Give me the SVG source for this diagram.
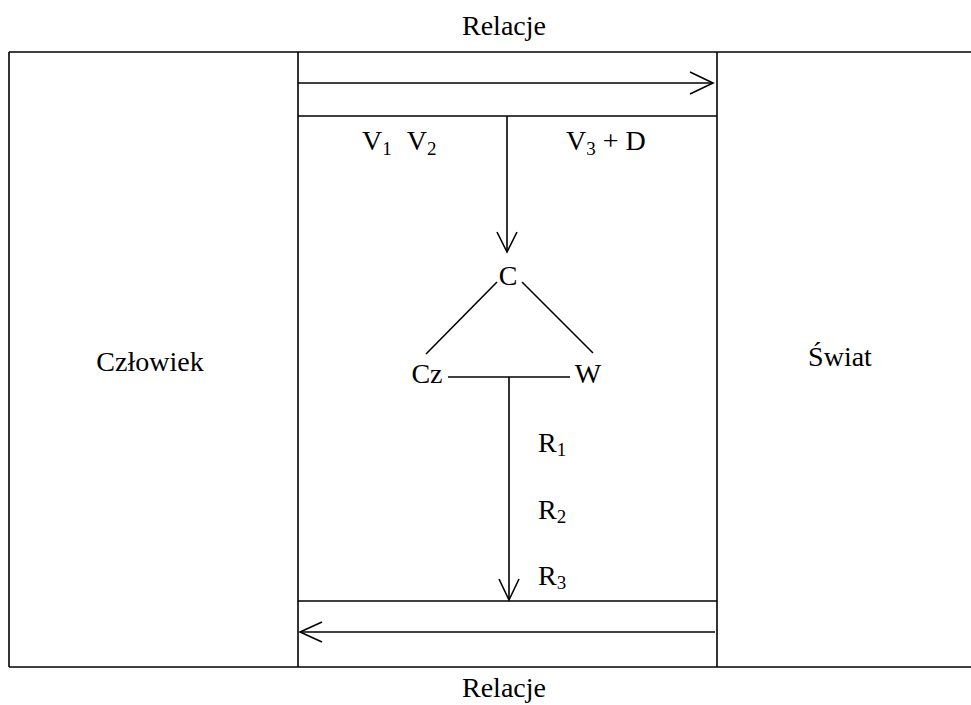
<svg xmlns="http://www.w3.org/2000/svg" width="971" height="705" viewBox="0 0 971 705">
<style>
  .ln { stroke: #000; stroke-width: 1.6; fill: none; }
  text { font-family: 'Liberation Serif', 'DejaVu Serif', serif; font-size: 28px; fill: #000; }
  .s { font-size: 19px; }
</style>
<rect width="971" height="705" fill="#fff"/>
<g id="frame">
  <line class="ln" x1="9" y1="52" x2="971" y2="52"/>
  <line class="ln" x1="9" y1="52" x2="9" y2="667"/>
  <line class="ln" x1="9" y1="667" x2="971" y2="667"/>
  <line class="ln" x1="298" y1="52" x2="298" y2="667"/>
  <line class="ln" x1="717" y1="52" x2="717" y2="667"/>
  <line class="ln" x1="298" y1="116" x2="717" y2="116"/>
  <line class="ln" x1="298" y1="601" x2="717" y2="601"/>
</g>
<g id="czlowiek"><text x="150" y="371" text-anchor="middle">Człowiek</text></g>
<g id="swiat"><text x="840" y="366" text-anchor="middle">Świat</text></g>
<g id="relacje-top"><text x="504" y="35" text-anchor="middle">Relacje</text></g>
<g id="relacje-bottom"><text x="504" y="697" text-anchor="middle">Relacje</text></g>
<g id="v12"><text x="362" y="150">V<tspan class="s" dy="5">1</tspan><tspan dy="-5" dx="15">V</tspan><tspan class="s" dy="5">2</tspan></text></g>
<g id="v3d"><text x="566" y="150">V<tspan class="s" dy="5">3</tspan><tspan dy="-5"> + D</tspan></text></g>
<g id="c"><text x="508" y="285" text-anchor="middle">C</text></g>
<g id="cz"><text x="427" y="383" text-anchor="middle">Cz</text></g>
<g id="w"><text x="588" y="383" text-anchor="middle">W</text></g>
<g id="r1"><text x="538" y="452">R<tspan class="s" dy="4">1</tspan></text></g>
<g id="r2"><text x="538" y="519">R<tspan class="s" dy="4">2</tspan></text></g>
<g id="r3"><text x="538" y="585">R<tspan class="s" dy="4">3</tspan></text></g>
<g id="connectors">
  <line class="ln" x1="298" y1="83" x2="713" y2="83"/>
  <polyline class="ln" points="690,72 713,83 690,94"/>
  <line class="ln" x1="507" y1="116" x2="507" y2="252"/>
  <polyline class="ln" points="497,232 507,252 517,232"/>
  <line class="ln" x1="426" y1="354" x2="497" y2="282"/>
  <line class="ln" x1="522" y1="282" x2="593" y2="353"/>
  <line class="ln" x1="448" y1="377" x2="570" y2="377"/>
  <line class="ln" x1="509" y1="377" x2="509" y2="600"/>
  <polyline class="ln" points="499,579 509,600 519,579"/>
  <line class="ln" x1="300" y1="632" x2="715" y2="632"/>
  <polyline class="ln" points="322,622 300,632 322,642"/>
</g>
</svg>
